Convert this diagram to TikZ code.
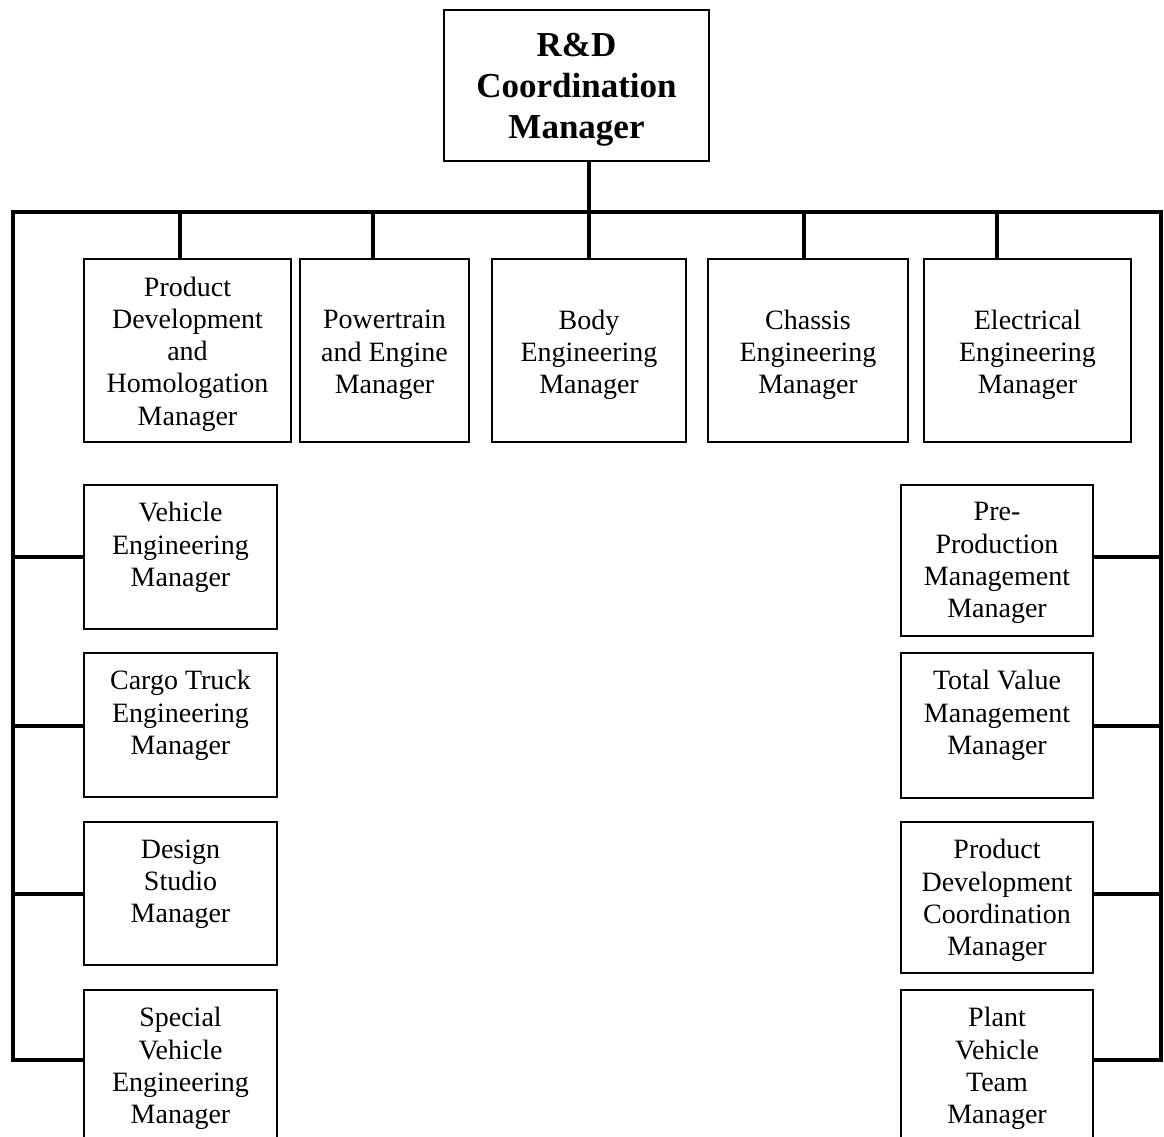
\documentclass[tikz,border=0pt]{standalone}
\usepackage{fontspec}
\setmainfont{Liberation Serif}
\usetikzlibrary{fit,calc}

\tikzset{
  box/.style={draw=black, line width=1.1pt, inner sep=0pt, fill=white},
  txt/.style={inner sep=0pt, align=center,
    font=\fontsize{21}{24.2}\selectfont},
  toptxt/.style={txt, anchor=north},
  headtxt/.style={inner sep=0pt, align=center,
    font=\fontsize{26.25}{30.8}\selectfont\bfseries},
  bus/.style={draw=black, line width=3.7pt, line join=miter, line cap=butt},
}

\begin{document}
\begin{tikzpicture}[x=0.75pt, y=-0.75pt]
  \useasboundingbox (0,0) rectangle (1164,1137);
  \clip (0,0) rectangle (1164,1137);

  % head of the organisation
  \node[box, fit={(444,10) (709,161)}] (head) {};
  \node[headtxt] (head-t) at ($(head.center)+(0,4)$) {R\&D\\Coordination\\Manager};

  % first row of managers
  \node[box, fit={(84,259) (291,442)}] (pdh) {};
  \node[box, fit={(300,259) (469,442)}] (pte) {};
  \node[box, fit={(492,259) (686,442)}] (body) {};
  \node[box, fit={(708,259) (908,442)}] (chas) {};
  \node[box, fit={(924,259) (1131,442)}] (elec) {};

  \node[txt] (pdh-t) at ($(pdh.center)+(0,3.5)$) {Product\\Development\\and\\Homologation\\Manager};
  \node[txt] (pte-t) at ($(pte.center)+(0,4.5)$) {Powertrain\\and Engine\\Manager};
  \node[txt] (body-t) at ($(body.center)+(0,4.5)$) {Body\\Engineering\\Manager};
  \node[txt] (chas-t) at ($(chas.center)+(0,4.5)$) {Chassis\\Engineering\\Manager};
  \node[txt] (elec-t) at ($(elec.center)+(0,4.5)$) {Electrical\\Engineering\\Manager};

  % left column
  \node[box, fit={(84,485) (277,629)}] (veh) {};
  \node[box, fit={(84,653) (277,797)}] (cargo) {};
  \node[box, fit={(84,822) (277,965)}] (design) {};
  \node[box, fit={(84,990) (277,1148)}] (spec) {};

  % right column
  \node[box, fit={(901,485) (1093,636)}] (pre) {};
  \node[box, fit={(901,653) (1093,798)}] (tvm) {};
  \node[box, fit={(901,822) (1093,973)}] (pdc) {};
  \node[box, fit={(901,990) (1093,1148)}] (plant) {};

  % titles of the column boxes, set from the top edge
  \node[toptxt] (veh-t) at ($(veh.north)+(0,18)$) {Vehicle\\Engineering\\Manager};
  \node[toptxt] (cargo-t) at ($(cargo.north)+(0,18)$) {Cargo Truck\\Engineering\\Manager};
  \node[toptxt] (design-t) at ($(design.north)+(0,18)$) {Design\\Studio\\Manager};
  \node[toptxt] (spec-t) at ($(spec.north)+(0,18)$) {Special\\Vehicle\\Engineering\\Manager};
  \node[toptxt] (pre-t) at ($(pre.north)+(0,18)$) {Pre-\\Production\\Management\\Manager};
  \node[toptxt] (tvm-t) at ($(tvm.north)+(0,18)$) {Total Value\\Management\\Manager};
  \node[toptxt] (pdc-t) at ($(pdc.north)+(0,18)$) {Product\\Development\\Coordination\\Manager};
  \node[toptxt] (plant-t) at ($(plant.north)+(0,18)$) {Plant\\Vehicle\\Team\\Manager};

  % bus corners and branch rows
  \coordinate (busL) at (13,212);
  \coordinate (busR) at (1161,212);
  \coordinate (row1) at (0,557);
  \coordinate (row2) at (0,726);
  \coordinate (row3) at (0,894);
  \coordinate (row4) at (0,1060);

  % main bus running round the chart
  \draw[bus] (spec.west |- row4) -| (busL) -- (busR) |- (plant.east |- row4);

  % stem from the head down through the bus
  \draw[bus] (head.south -| body.north) -- (body.north);

  % drops to the first row
  \coordinate (d1) at (180,212);
  \coordinate (d2) at (373,212);
  \coordinate (d4) at (804,212);
  \coordinate (d5) at (997,212);
  \draw[bus] (d1) -- (d1 |- pdh.north);
  \draw[bus] (d2) -- (d2 |- pte.north);
  \draw[bus] (d4) -- (d4 |- chas.north);
  \draw[bus] (d5) -- (d5 |- elec.north);

  % branches to the left column
  \draw[bus] (busL |- row1) -- (veh.west |- row1);
  \draw[bus] (busL |- row2) -- (cargo.west |- row2);
  \draw[bus] (busL |- row3) -- (design.west |- row3);

  % branches to the right column
  \draw[bus] (busR |- row1) -- (pre.east |- row1);
  \draw[bus] (busR |- row2) -- (tvm.east |- row2);
  \draw[bus] (busR |- row3) -- (pdc.east |- row3);
\end{tikzpicture}
\end{document}
